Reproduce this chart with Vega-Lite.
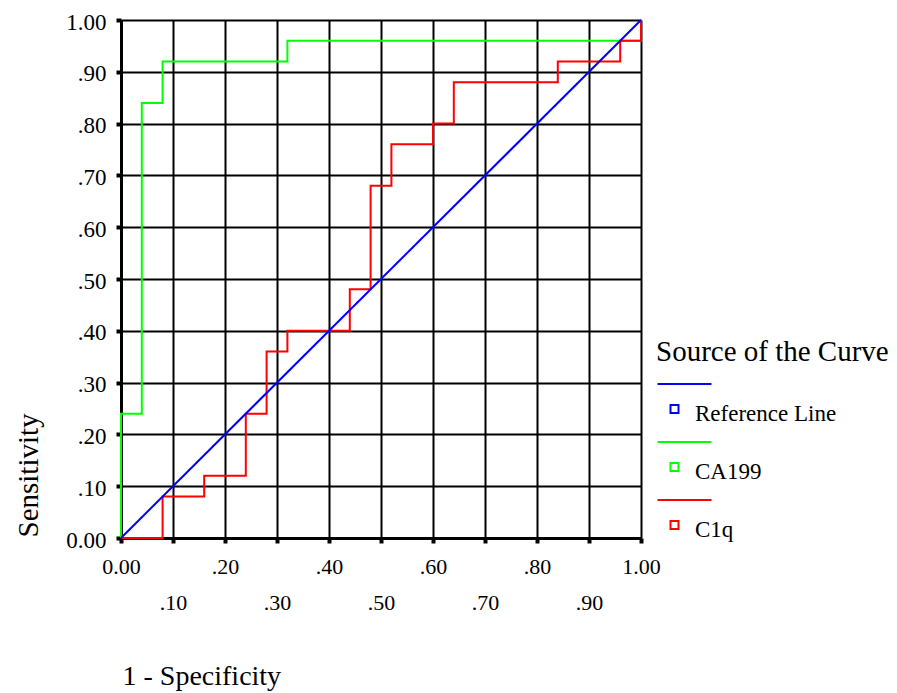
{
  "$schema": "https://vega.github.io/schema/vega-lite/v6.json",
  "width": 520,
  "height": 518,
  "autosize": {"type": "none"},
  "padding": {"left": 121, "top": 20, "right": 256, "bottom": 155},
  "background": "white",
  "config": {
    "font": "Liberation Serif",
    "view": {"stroke": null},
    "legend": {"labelFont": "Liberation Serif", "titleFont": "Liberation Serif"}
  },
  "data": {
    "values": [
      {"curve": "CA199", "ord": 0, "fpr": 0, "sens": 0},
      {"curve": "CA199", "ord": 1, "fpr": 0, "sens": 0.24},
      {"curve": "CA199", "ord": 2, "fpr": 0.04, "sens": 0.84},
      {"curve": "CA199", "ord": 3, "fpr": 0.08, "sens": 0.92},
      {"curve": "CA199", "ord": 4, "fpr": 0.32, "sens": 0.96},
      {"curve": "CA199", "ord": 5, "fpr": 1, "sens": 1},
      {"curve": "C1q", "ord": 0, "fpr": 0, "sens": 0},
      {"curve": "C1q", "ord": 1, "fpr": 0.08, "sens": 0.08},
      {"curve": "C1q", "ord": 2, "fpr": 0.16, "sens": 0.12},
      {"curve": "C1q", "ord": 3, "fpr": 0.24, "sens": 0.24},
      {"curve": "C1q", "ord": 4, "fpr": 0.28, "sens": 0.36},
      {"curve": "C1q", "ord": 5, "fpr": 0.32, "sens": 0.40},
      {"curve": "C1q", "ord": 6, "fpr": 0.44, "sens": 0.48},
      {"curve": "C1q", "ord": 7, "fpr": 0.48, "sens": 0.68},
      {"curve": "C1q", "ord": 8, "fpr": 0.52, "sens": 0.76},
      {"curve": "C1q", "ord": 9, "fpr": 0.60, "sens": 0.80},
      {"curve": "C1q", "ord": 10, "fpr": 0.64, "sens": 0.88},
      {"curve": "C1q", "ord": 11, "fpr": 0.84, "sens": 0.92},
      {"curve": "C1q", "ord": 12, "fpr": 0.96, "sens": 0.96},
      {"curve": "C1q", "ord": 13, "fpr": 1, "sens": 1},
      {"curve": "Reference Line", "ord": 0, "fpr": 0, "sens": 0},
      {"curve": "Reference Line", "ord": 1, "fpr": 1, "sens": 1}
    ]
  },
  "encoding": {
    "x": {
      "field": "fpr",
      "type": "quantitative",
      "scale": {"domain": [0, 1], "nice": false, "zero": false},
      "axis": {
        "values": [0, 0.1, 0.2, 0.3, 0.4, 0.5, 0.6, 0.7, 0.8, 0.9, 1],
        "labelExpr": "round(datum.value*10) % 2 == 1 ? ['', slice(format(datum.value,'.2f'),1)] : ((datum.value == 0 || datum.value == 1) ? format(datum.value,'.2f') : slice(format(datum.value,'.2f'),1))",
        "grid": true,
        "gridColor": "black",
        "gridWidth": 2,
        "gridOpacity": 1,
        "domainColor": "black",
        "domainWidth": 3,
        "tickColor": "black",
        "tickSize": 5,
        "tickWidth": 4,
        "labelFont": "Liberation Serif",
        "labelFontSize": 22,
        "labelColor": "black",
        "labelBaseline": "top",
        "labelPadding": 13,
        "labelLineHeight": 36,
        "labelFlush": false,
        "labelOverlap": false,
        "title": "1 - Specificity",
        "titleFont": "Liberation Serif",
        "titleFontSize": 28,
        "titleFontWeight": "normal",
        "titleColor": "black",
        "titleAnchor": "start",
        "titleAlign": "left",
        "titleBaseline": "middle",
        "titleX": 1,
        "titleY": 138
      }
    },
    "y": {
      "field": "sens",
      "type": "quantitative",
      "scale": {"domain": [0, 1], "nice": false, "zero": false},
      "axis": {
        "values": [0, 0.1, 0.2, 0.3, 0.4, 0.5, 0.6, 0.7, 0.8, 0.9, 1],
        "labelExpr": "(datum.value == 0 || datum.value == 1) ? format(datum.value,'.2f') : slice(format(datum.value,'.2f'),1)",
        "grid": true,
        "gridColor": "black",
        "gridWidth": 2,
        "gridOpacity": 1,
        "domainColor": "black",
        "domainWidth": 3,
        "tickColor": "black",
        "tickSize": 5,
        "tickWidth": 4,
        "labelFont": "Liberation Serif",
        "labelFontSize": 23,
        "labelColor": "black",
        "labelBaseline": "middle",
        "labelPadding": 10,
        "labelOffset": 2,
        "labelFlush": false,
        "labelOverlap": false,
        "title": "Sensitivity",
        "titleFont": "Liberation Serif",
        "titleFontSize": 29,
        "titleFontWeight": "normal",
        "titleColor": "black",
        "titleAngle": -90,
        "titleAnchor": "start",
        "titleAlign": "left",
        "titleBaseline": "middle",
        "titleX": -93,
        "titleY": 517
      }
    },
    "color": {
      "field": "curve",
      "type": "nominal",
      "scale": {
        "domain": ["Reference Line", "CA199", "C1q"],
        "range": ["#0000FF", "#00FF00", "#FF0000"]
      },
      "legend": {
        "orient": "none",
        "legendX": 535,
        "legendY": 318,
        "padding": 0,
        "title": "Source of the Curve",
        "titleFont": "Liberation Serif",
        "titleFontSize": 29,
        "titleFontWeight": "normal",
        "titleColor": "black",
        "titlePadding": 35,
        "titleLimit": 400,
        "labelFont": "Liberation Serif",
        "labelFontSize": 23,
        "labelColor": "black",
        "labelOffset": 9,
        "labelLimit": 300,
        "symbolType": "M-4.25,-7.375L9.25,-7.375M-1,-2.125L1,-2.125L1,-0.125L-1,-0.125Z",
        "symbolSize": 64,
        "symbolStrokeWidth": 2,
        "symbolFillColor": "transparent",
        "symbolOffset": 7,
        "rowPadding": 12
      }
    },
    "order": {"field": "ord", "type": "quantitative"}
  },
  "layer": [
    {
      "transform": [{"filter": "datum.curve != 'Reference Line'"}],
      "mark": {"type": "line", "interpolate": "step-after", "strokeWidth": 2}
    },
    {
      "transform": [{"filter": "datum.curve == 'Reference Line'"}],
      "mark": {"type": "line", "strokeWidth": 2}
    }
  ]
}
